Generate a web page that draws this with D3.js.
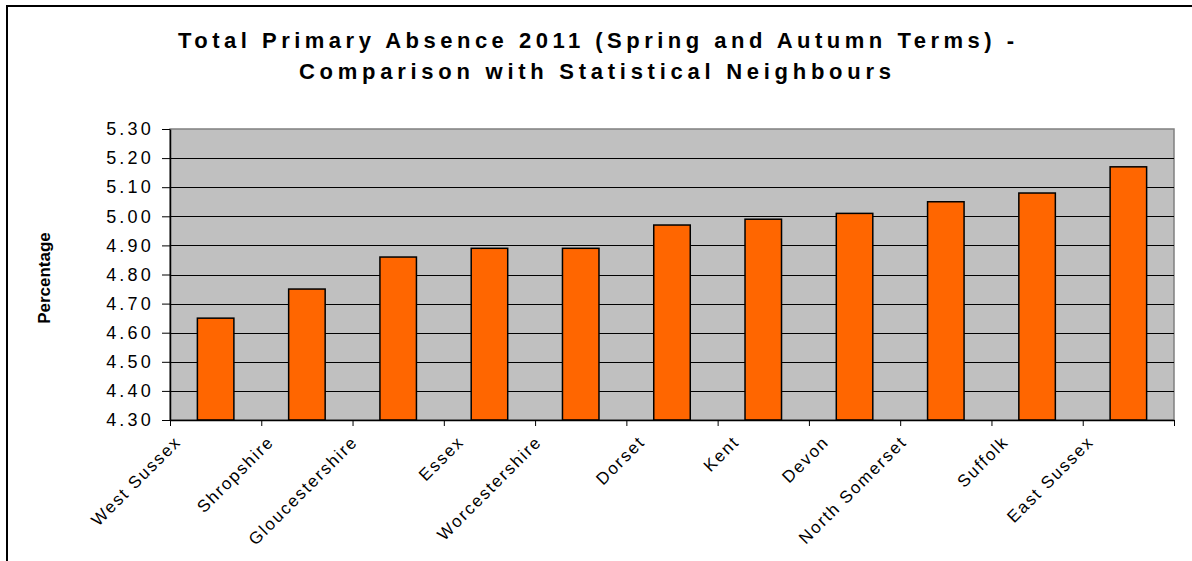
<!DOCTYPE html>
<meta charset="utf-8">
<style>
body { margin: 0; background: #fff; }
svg { display: block; font-family: "Liberation Sans", Arial, sans-serif; }
.title { font-size: 22px; font-weight: bold; fill: #000; }
.yaxis text { font-size: 18px; letter-spacing: 3.2px; fill: #000; }
.ytitle { font-size: 17px; font-weight: bold; }
.xlabel { font-size: 17px; letter-spacing: 1.8px; fill: #000; }
.grid line { stroke: #000; stroke-width: 1px; }
.bar { fill: #ff6600; stroke: #000; stroke-width: 1.5px; }
</style>
<svg width="1192" height="561"></svg>
<script src="https://d3js.org/d3.v7.min.js"></script>
<script>

// data
var areas = ["West Sussex", "Shropshire", "Gloucestershire", "Essex", "Worcestershire",
             "Dorset", "Kent", "Devon", "North Somerset", "Suffolk", "East Sussex"];
var absence = [4.65, 4.75, 4.86, 4.89, 4.89, 4.97, 4.99, 5.01, 5.05, 5.08, 5.17];
var yTicks = [4.30, 4.40, 4.50, 4.60, 4.70, 4.80, 4.90, 5.00, 5.10, 5.20, 5.30];
var titleLines = ["Total Primary Absence 2011 (Spring and Autumn Terms) -",
                  "Comparison with Statistical Neighbours"];
var yTitle = "Percentage";

var svg = d3.select("svg"),
    margin = {top: 129, right: 18, bottom: 141, left: 170},
    width = +svg.attr("width") - margin.left - margin.right,
    height = +svg.attr("height") - margin.top - margin.bottom;

// outer chart frame (runs off the right and bottom of the picture)
svg.append("rect")
    .attr("x", 7).attr("y", 6)
    .attr("width", 1220).attr("height", 600)
    .attr("fill", "none")
    .attr("stroke", "#000")
    .attr("stroke-width", 2);

// title, stretched like the original pdf render
var titleSpans = [[178, 836], [299, 592]];
svg.selectAll(".title")
  .data(titleLines)
  .join("text")
    .attr("class", "title")
    .attr("x", function(d, i) { return titleSpans[i][0]; })
    .attr("y", function(d, i) { return 48 + i * 31; })
    .attr("textLength", function(d, i) { return titleSpans[i][1]; })
    .attr("lengthAdjust", "spacing")
    .text(function(d) { return d; });

var g = svg.append("g")
    .attr("transform", "translate(" + margin.left + "," + margin.top + ")");

var x = d3.scaleBand()
    .domain(areas)
    .range([0, width])
    .paddingInner(0.6)
    .paddingOuter(0.3);

var xTick = d3.scaleLinear()
    .domain([0, areas.length])
    .range([0, width]);

var y = d3.scaleLinear()
    .domain([yTicks[0], yTicks[yTicks.length - 1]])
    .range([height, 0]);

// plot area
g.append("rect")
    .attr("width", width)
    .attr("height", height)
    .attr("fill", "#c0c0c0")
    .attr("stroke", "#808080")
    .attr("stroke-width", 1.5);

g.append("g")
    .attr("class", "grid")
  .selectAll("line")
  .data(yTicks.slice(1, -1))
  .join("line")
    .attr("x1", 0)
    .attr("x2", width)
    .attr("y1", function(d) { return Math.round(y(d)) + 0.5; })
    .attr("y2", function(d) { return Math.round(y(d)) + 0.5; });

g.selectAll(".bar")
  .data(absence)
  .join("rect")
    .attr("class", "bar")
    .attr("x", function(d, i) { return x(areas[i]); })
    .attr("y", function(d) { return y(d); })
    .attr("width", x.bandwidth())
    .attr("height", function(d) { return height - y(d); });

// axes
var yAxis = g.append("g")
    .attr("class", "yaxis")
    .call(d3.axisLeft(y)
        .tickValues(yTicks)
        .tickFormat(d3.format(".2f"))
        .tickSize(8)
        .tickSizeOuter(0)
        .tickPadding(8));
yAxis.select(".domain").attr("stroke", "#000").attr("stroke-width", 1.5);
yAxis.selectAll("text").attr("font-family", null).attr("font-size", null);

var xAxis = g.append("g")
    .attr("transform", "translate(0," + height + ")")
    .call(d3.axisBottom(xTick)
        .tickValues(d3.range(areas.length + 1))
        .tickFormat("")
        .tickSize(6)
        .tickSizeOuter(0));
xAxis.select(".domain").attr("stroke", "#000").attr("stroke-width", 1.5);

// rotated category labels
g.selectAll(".xlabel")
  .data(areas)
  .join("text")
    .attr("class", "xlabel")
    .attr("text-anchor", "end")
    .attr("transform", function(d) {
      var cx = x(d) + x.bandwidth() / 2 - (17 + 1.5 * d.length);
      return "translate(" + cx + "," + (height + 23) + ") rotate(-45)";
    })
    .text(function(d) { return d; });

svg.append("text")
    .attr("class", "ytitle")
    .attr("text-anchor", "middle")
    .attr("transform", "translate(45,278) rotate(-90)")
    .attr("dy", "0.3em")
    .text(yTitle);

</script>
